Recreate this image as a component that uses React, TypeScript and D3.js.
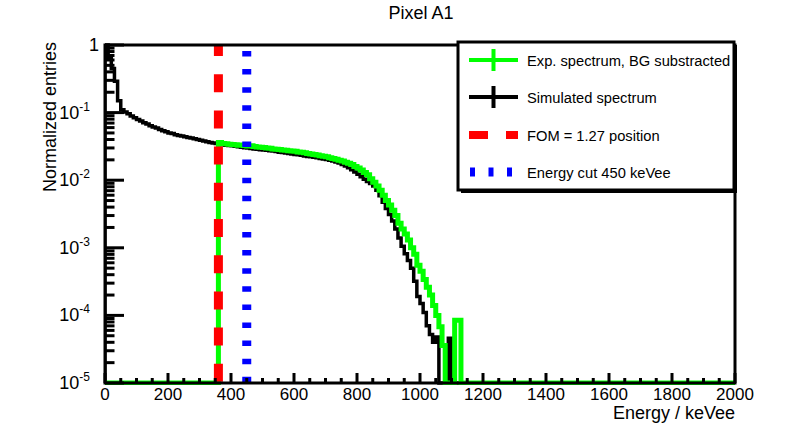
import React, { useRef, useEffect } from "react"
import * as d3 from "d3"

// Histogram binning (keVee)
const binWidth = 10
const energyDomain: [number, number] = [0, 2000]
const entriesDomain: [number, number] = [1e-5, 1]

const xTickLabels = [0, 200, 400, 600, 800, 1000, 1200, 1400, 1600, 1800, 2000]
const yDecades = [0, -1, -2, -3, -4, -5]

// Simulated spectrum, bins from 0 keVee (10 keVee each), empty beyond 1200
const simulated = [
    1.0, 0.65, 0.45, 0.29, 0.15, 0.11, 0.102, 0.096, 0.089, 0.084,
    0.079, 0.075, 0.071, 0.068, 0.064, 0.061, 0.059, 0.056, 0.054, 0.052,
    0.050, 0.049, 0.047, 0.046, 0.045, 0.044, 0.043, 0.042, 0.041, 0.040,
    0.039, 0.038, 0.037, 0.036, 0.0355, 0.035, 0.034, 0.0335, 0.033, 0.0326,
    0.0322, 0.0318, 0.0312, 0.0308, 0.0303, 0.0299, 0.0295, 0.029, 0.0287, 0.0283,
    0.028, 0.0277, 0.0272, 0.027, 0.0265, 0.026, 0.0256, 0.0252, 0.0249, 0.0245,
    0.0241, 0.0237, 0.0233, 0.0229, 0.0225, 0.0222, 0.0218, 0.0214, 0.021, 0.0206,
    0.0202, 0.0198, 0.0193, 0.0186, 0.0179, 0.0171, 0.0162, 0.0153, 0.0143, 0.0132,
    0.0122, 0.0112, 0.0103, 0.0096, 0.0089, 0.0082, 0.0071, 0.0059, 0.0047, 0.0038,
    0.0031, 0.0025, 0.0019, 0.0014, 0.00105, 0.00082, 0.00065, 0.0005, 0.00032, 0.00019,
    0.00015, 0.00011, 0.00007, 0.000052, 0.00004, 0.000048, 0, 0, 0, 0.000046,
    0, 0, 0, 0, 0, 0, 0, 0, 0, 0,
]

// Experimental spectrum, BG substracted, same binning
const experimental = [
    0, 0, 0, 0, 0, 0, 0, 0, 0, 0,
    0, 0, 0, 0, 0, 0, 0, 0, 0, 0,
    0, 0, 0, 0, 0, 0, 0, 0, 0, 0,
    0, 0, 0, 0, 0, 0, 0.036, 0.035, 0.0345, 0.034,
    0.0338, 0.0335, 0.033, 0.0332, 0.0325, 0.032, 0.0322, 0.0315, 0.031, 0.0308,
    0.0305, 0.030, 0.0297, 0.029, 0.0288, 0.0284, 0.028, 0.0277, 0.0272, 0.027,
    0.0268, 0.0262, 0.026, 0.0255, 0.0248, 0.0245, 0.024, 0.0236, 0.023, 0.0226,
    0.0222, 0.0215, 0.021, 0.0205, 0.0198, 0.0192, 0.0185, 0.0178, 0.017, 0.016,
    0.0152, 0.0142, 0.013, 0.012, 0.0105, 0.0093, 0.0082, 0.0071, 0.006, 0.005,
    0.0043, 0.0036, 0.003, 0.0023, 0.0019, 0.0016, 0.0013, 0.001, 0.0008, 0.00055,
    0.00045, 0.00034, 0.00026, 0.0002, 0.00014, 0.0001, 0.000068, 0.000036, 0, 0,
    0, 0.000085, 0.000085, 0, 0, 0, 0, 0, 0, 0,
]

const fomPosition = 360
const energyCut = 450

const legendLabels = [
    "Exp. spectrum, BG substracted",
    "Simulated spectrum",
    "FOM = 1.27 position",
    "Energy cut 450 keVee",
]

const GREEN = "#00ff00"
const RED = "#ff0000"
const BLUE = "#0000ff"
const FONT = "'Liberation Sans', Arial, Helvetica, sans-serif"

export default function App() {
    const svgRef = useRef<SVGSVGElement>(null)

    useEffect(() => {
        if (!svgRef.current) return
        const svg = d3.select(svgRef.current)
        svg.selectAll("*").remove()

        const width = 791
        const height = 433
        const margin = { top: 45, right: 56, bottom: 50, left: 105 }
        const innerWidth = width - margin.left - margin.right
        const innerHeight = height - margin.top - margin.bottom

        svg.append("rect").attr("width", width).attr("height", height).attr("fill", "#fff")

        const x = d3.scaleLinear().domain(energyDomain).range([0, innerWidth])
        const y = d3.scaleLog().domain(entriesDomain).range([innerHeight, 0])

        const g = svg.append("g").attr("transform", `translate(${margin.left},${margin.top})`)

        g.append("clipPath").attr("id", "frame-clip")
            .append("rect").attr("x", 0).attr("y", -2).attr("width", innerWidth).attr("height", innerHeight + 4)

        // histogram as steps, empty bins sit on the lower edge
        const histPath = (values: number[]) => {
            const clamp = (v: number) => (v > entriesDomain[0] ? v : entriesDomain[0])
            const pts: [number, number][] = [[0, entriesDomain[0]]]
            values.forEach((v, i) => {
                pts.push([i * binWidth, clamp(v)])
                pts.push([(i + 1) * binWidth, clamp(v)])
            })
            pts.push([values.length * binWidth, entriesDomain[0]])
            pts.push([energyDomain[1], entriesDomain[0]])
            return d3.line<[number, number]>()
                .x(d => x(d[0]))
                .y(d => y(d[1]))(pts)
        }

        const plot = g.append("g").attr("clip-path", "url(#frame-clip)")

        plot.append("path")
            .attr("d", histPath(simulated))
            .attr("fill", "none")
            .attr("stroke", "#000")
            .attr("stroke-width", 3.5)

        plot.append("path")
            .attr("d", histPath(experimental))
            .attr("fill", "none")
            .attr("stroke", GREEN)
            .attr("stroke-width", 5)

        // FOM position (dashed) and energy cut (dotted)
        plot.append("line")
            .attr("x1", x(fomPosition)).attr("x2", x(fomPosition))
            .attr("y1", y(entriesDomain[1])).attr("y2", y(entriesDomain[0]))
            .attr("stroke", RED)
            .attr("stroke-width", 9)
            .attr("stroke-dasharray", "18 18.2")
            .attr("stroke-dashoffset", 7)

        plot.append("line")
            .attr("x1", x(energyCut)).attr("x2", x(energyCut))
            .attr("y1", y(entriesDomain[1])).attr("y2", y(entriesDomain[0]))
            .attr("stroke", BLUE)
            .attr("stroke-width", 9)
            .attr("stroke-dasharray", "5.5 12.6")
            .attr("stroke-dashoffset", 12.1)

        // X axis ticks
        const xMajorLen = 10
        d3.range(energyDomain[0], energyDomain[1] + 1, 50).forEach(e => {
            const isMajor = e % 200 === 0
            g.append("line")
                .attr("x1", x(e)).attr("x2", x(e))
                .attr("y1", innerHeight).attr("y2", innerHeight - (isMajor ? xMajorLen : xMajorLen / 2))
                .attr("stroke", "#000").attr("stroke-width", 3)
        })
        xTickLabels.forEach(e => {
            g.append("text")
                .attr("x", x(e)).attr("y", innerHeight + 17)
                .attr("text-anchor", "middle")
                .attr("font-family", FONT).attr("font-size", 17)
                .text(e)
        })

        // Y axis ticks (log)
        const yMajorLen = 19
        yDecades.forEach(d => {
            g.append("line")
                .attr("x1", 0).attr("x2", yMajorLen)
                .attr("y1", y(Math.pow(10, d))).attr("y2", y(Math.pow(10, d)))
                .attr("stroke", "#000").attr("stroke-width", 3)
            if (d < 0) {
                d3.range(2, 10).forEach(m => {
                    const v = m * Math.pow(10, d)
                    g.append("line")
                        .attr("x1", 0).attr("x2", yMajorLen / 2)
                        .attr("y1", y(v)).attr("y2", y(v))
                        .attr("stroke", "#000").attr("stroke-width", 3)
                })
            }
            const label = g.append("text")
                .attr("x", -15).attr("y", y(Math.pow(10, d)) + 6)
                .attr("text-anchor", "end")
                .attr("font-family", FONT).attr("font-size", 18)
            if (d === 0) {
                label.attr("x", -6).text("1")
            } else {
                label.append("tspan").text("10")
                label.append("tspan")
                    .attr("font-size", 12)
                    .attr("dy", -8)
                    .text(`${d}`)
            }
        })

        // frame
        g.append("rect")
            .attr("x", 0).attr("y", 0)
            .attr("width", innerWidth).attr("height", innerHeight)
            .attr("fill", "none").attr("stroke", "#000").attr("stroke-width", 3)

        // titles
        svg.append("text")
            .attr("x", 421).attr("y", 19)
            .attr("text-anchor", "middle")
            .attr("font-family", FONT).attr("font-size", 18)
            .text("Pixel A1")

        svg.append("text")
            .attr("x", margin.left + innerWidth).attr("y", 419)
            .attr("text-anchor", "end")
            .attr("font-family", FONT).attr("font-size", 18)
            .text("Energy / keVee")

        svg.append("text")
            .attr("transform", `translate(56,${margin.top - 3}) rotate(-90)`)
            .attr("text-anchor", "end")
            .attr("font-family", FONT).attr("font-size", 18)
            .text("Normalized entries")

        // legend
        const lx = 458, ly = 42, lw = 276, lh = 148
        const legend = svg.append("g")
        legend.append("rect")
            .attr("x", lx + 3).attr("y", ly + 3).attr("width", lw).attr("height", lh)
            .attr("fill", "#000")
        legend.append("rect")
            .attr("x", lx).attr("y", ly).attr("width", lw).attr("height", lh)
            .attr("fill", "#fff").attr("stroke", "#000").attr("stroke-width", 3)

        const rowY = [60, 97, 135, 172]
        const symX0 = 469, symX1 = 518
        const symMid = (symX0 + symX1) / 2

        // histogram entries with cross
        ;[GREEN, "#000"].forEach((c, i) => {
            legend.append("line")
                .attr("x1", symX0).attr("x2", symX1)
                .attr("y1", rowY[i]).attr("y2", rowY[i])
                .attr("stroke", c).attr("stroke-width", 4)
            legend.append("line")
                .attr("x1", symMid).attr("x2", symMid)
                .attr("y1", rowY[i] - 11).attr("y2", rowY[i] + 11)
                .attr("stroke", c).attr("stroke-width", 4)
        })
        legend.append("line")
            .attr("x1", symX0).attr("x2", symX1)
            .attr("y1", rowY[2]).attr("y2", rowY[2])
            .attr("stroke", RED).attr("stroke-width", 8)
            .attr("stroke-dasharray", "19 18")
        legend.append("line")
            .attr("x1", symX0 + 1).attr("x2", symX1)
            .attr("y1", rowY[3]).attr("y2", rowY[3])
            .attr("stroke", BLUE).attr("stroke-width", 9)
            .attr("stroke-dasharray", "5 13.5")

        legendLabels.forEach((t, i) => {
            legend.append("text")
                .attr("x", 527).attr("y", rowY[i] + 5.5)
                .attr("font-family", FONT).attr("font-size", 14.7)
                .text(t)
        })
    }, [])

    return (
        <svg
            ref={svgRef}
            width={791}
            height={433}
            style={{ position: "absolute", left: 0, top: 0, display: "block" }}
        />
    )
}
